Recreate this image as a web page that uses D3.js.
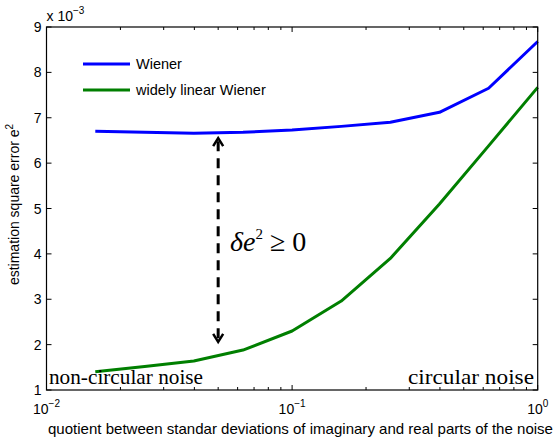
<!DOCTYPE html>
<html>
<head>
<meta charset="utf-8">
<script src="https://cdn.jsdelivr.net/npm/d3@7"></script>
<style>
  html, body { margin: 0; padding: 0; background: #fff; }
  svg { display: block; }
  .ax text { font-family: "Liberation Sans", Arial, sans-serif; font-size: 14px; fill: #000; }
  .serif { font-family: "Liberation Serif", "Times New Roman", serif; fill: #000; }
</style>
</head>
<body>
<svg id="chart" width="555" height="441"></svg>
<script>
// Noise ratio (imaginary / real std) on a log axis
const ratios = [0.0158, 0.0251, 0.0398, 0.0631, 0.1, 0.1585, 0.2512, 0.3981, 0.631, 1.0];
// Estimation square error, in units of 1e-3
const wiener = [6.70, 6.68, 6.66, 6.68, 6.73, 6.81, 6.90, 7.12, 7.65, 8.68];
const widelyLinear = [1.40, 1.52, 1.64, 1.88, 2.30, 2.96, 3.90, 5.10, 6.38, 7.67];
const seriesNames = ["Wiener", "widely linear Wiener"];
const seriesColors = ["#0000ff", "#007f00"];
const yTicks = [1, 2, 3, 4, 5, 6, 7, 8, 9];
const xTicks = [0.01, 0.1, 1];
const xExponents = ["−2", "−1", "0"];
// Arrow spans from near the Wiener curve down to the widely linear curve
const arrowX = 0.05;
const arrowRange = [6.55, 2.06];

const svg = d3.select("#chart");
const L = 46.5, R = 537.7, T = 27, B = 390;

const x = d3.scaleLog().domain([0.01, 1]).range([L, R]);
const y = d3.scaleLinear().domain([1, 9]).range([B, T]);

// Minor log ticks
const minor = [];
[0.01, 0.1].forEach(d => { for (let k = 2; k <= 9; k++) minor.push(d * k); });

const g = svg.append("g").attr("class", "ax");

// Bottom & top ticks (inward)
[[B, -1], [T, 1]].forEach(([yy, dir]) => {
  g.selectAll(null).data(xTicks).enter().append("line")
    .attr("x1", d => x(d)).attr("x2", d => x(d))
    .attr("y1", yy).attr("y2", yy + dir * 5)
    .attr("stroke", "#000").attr("stroke-width", 1);
  g.selectAll(null).data(minor).enter().append("line")
    .attr("x1", d => x(d)).attr("x2", d => x(d))
    .attr("y1", yy).attr("y2", yy + dir * 3)
    .attr("stroke", "#000").attr("stroke-width", 1);
});
// Left & right ticks
[[L, 1], [R, -1]].forEach(([xx, dir]) => {
  g.selectAll(null).data(yTicks).enter().append("line")
    .attr("x1", xx).attr("x2", xx + dir * 5)
    .attr("y1", d => y(d)).attr("y2", d => y(d))
    .attr("stroke", "#000").attr("stroke-width", 1);
});

// Y tick labels
g.selectAll(null).data(yTicks).enter().append("text")
  .attr("x", L - 5).attr("y", d => y(d) + 5)
  .attr("text-anchor", "end").text(d => d);

// X tick labels 10^n
xTicks.forEach((d, i) => {
  const t = g.append("text").attr("x", x(d)).attr("y", 414).attr("text-anchor", "middle");
  t.append("tspan").text("10");
  t.append("tspan").attr("dy", -7).attr("font-size", 10).text(xExponents[i]);
});

// Scale factor label
const sf = g.append("text").attr("x", L).attr("y", 21);
sf.append("tspan").text("x 10");
sf.append("tspan").attr("dy", -7).attr("font-size", 10).text("−3");

// Axis titles
g.append("text").attr("x", 48).attr("y", 434)
  .attr("textLength", 505).attr("lengthAdjust", "spacingAndGlyphs")
  .style("font-size", "14.5px")
  .text("quotient between standar deviations of imaginary and real parts of the noise");
const yl = g.append("text")
  .attr("transform", `translate(19,${(T + B) / 2 - 4}) rotate(-90)`)
  .attr("text-anchor", "middle").style("font-size", "14px");
yl.append("tspan").text("estimation square error e");
yl.append("tspan").attr("dy", -6).attr("font-size", 10).text("2");

// Lines
const line = d3.line().x((d, i) => x(ratios[i])).y(d => y(d));
[wiener, widelyLinear].forEach((s, i) => {
  svg.append("path").datum(s).attr("d", line)
    .attr("fill", "none").attr("stroke", seriesColors[i])
    .attr("stroke-width", 3).attr("stroke-linejoin", "round");
});

// Legend
seriesNames.forEach((n, i) => {
  const ly = 64 + i * 26;
  svg.append("line").attr("x1", 83).attr("x2", 130).attr("y1", ly).attr("y2", ly)
    .attr("stroke", seriesColors[i]).attr("stroke-width", 3);
  svg.append("text").attr("x", 136).attr("y", ly + 5)
    .style("font-family", "Liberation Sans, Arial, sans-serif").style("font-size", "14.5px")
    .text(n);
});

// Double-headed dashed arrow
const ax = x(arrowX), ay1 = y(arrowRange[0]), ay2 = y(arrowRange[1]);
svg.append("line").attr("x1", ax).attr("x2", ax).attr("y1", ay1 + 3).attr("y2", ay2 - 3)
  .attr("stroke", "#000").attr("stroke-width", 3).attr("stroke-dasharray", "10,7");
[[ay1, 1], [ay2, -1]].forEach(([yy, dir]) => {
  svg.append("path")
    .attr("d", `M${ax - 5},${yy + dir * 8} L${ax},${yy} L${ax + 5},${yy + dir * 8}`)
    .attr("fill", "none").attr("stroke", "#000").attr("stroke-width", 2.5);
});

// Annotation δe² ≥ 0
const ann = svg.append("text").attr("class", "serif").attr("x", 230).attr("y", 251)
  .style("font-size", "28px");
ann.append("tspan").attr("font-style", "italic").text("δe");
ann.append("tspan").attr("dy", -12).attr("font-size", 15).text("2");
ann.append("tspan").attr("dy", 12).text(" ≥ 0");

// Region labels
svg.append("text").attr("class", "serif").attr("x", 49).attr("y", 384)
  .attr("textLength", 154).attr("lengthAdjust", "spacingAndGlyphs")
  .style("font-size", "21px").text("non-circular noise");
svg.append("text").attr("class", "serif").attr("x", 408).attr("y", 384)
  .attr("textLength", 126).attr("lengthAdjust", "spacingAndGlyphs")
  .style("font-size", "21px").text("circular noise");

// Frame
svg.append("rect").attr("x", L).attr("y", T).attr("width", R - L).attr("height", B - T)
  .attr("fill", "none").attr("stroke", "#000").attr("stroke-width", 1.2);
</script>
</body>
</html>
